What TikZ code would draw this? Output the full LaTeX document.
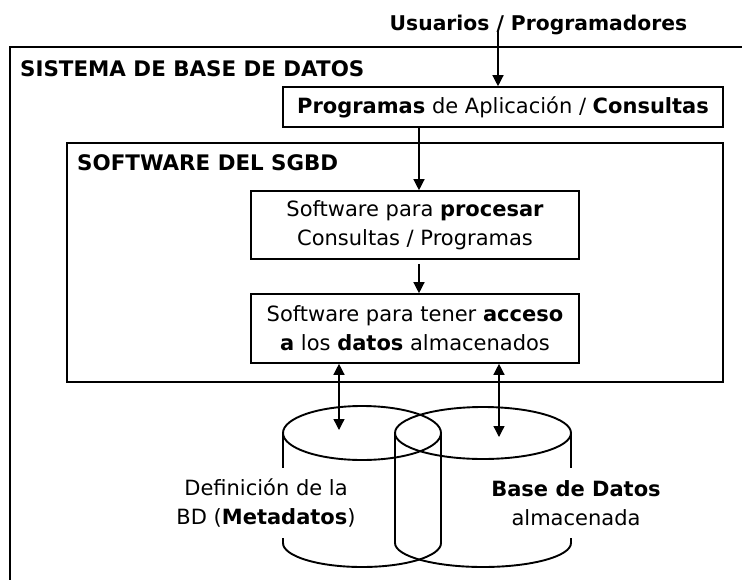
\documentclass[tikz,border=0pt]{standalone}
\usepackage{fontspec}
\setmainfont{DejaVu Sans}
\usetikzlibrary{positioning,arrows.meta}
\tikzset{
  caja/.style={draw,line width=1.6pt,inner sep=0pt,align=center,
               font=\fontsize{21}{29}\selectfont},
  titulo/.style={anchor=base west,inner sep=0pt,
               font=\fontsize{21.4}{26}\selectfont\bfseries},
  rotulo/.style={fill=white,inner xsep=3pt,minimum height=70pt,align=center,
               font=\fontsize{21}{29}\selectfont},
  cil/.style={line width=1.9pt},
  arr/.style={-{Triangle[length=11pt,width=11pt]},line width=1.3pt},
  darr/.style={{Triangle[length=11pt,width=11pt]}-{Triangle[length=11pt,width=11pt]},line width=1.3pt},
}

\begin{document}
\begin{tikzpicture}[x=1pt,y=-1pt]
    \useasboundingbox (0,0) rectangle (742,579);
    \clip (0,0) rectangle (742,579);
    % sistema
    \draw[line width=1.6pt] (10,47) rectangle (760,600);
    \node[titulo] (sbd) at (20,76) {SISTEMA DE BASE DE DATOS};
    \node[anchor=base,inner sep=0pt,font=\fontsize{20.3}{24}\selectfont\bfseries] (usr) at (538.5,30) {Usuarios / Programadores};
    \node[caja,minimum width=440pt,minimum height=40pt] (prog) at (503,107) {\textbf{Programas} de Aplicación / \textbf{Consultas}};
    % sgbd
    \draw[line width=1.6pt] (67,143) rectangle (723,382);
    \node[titulo] (sgbd) at (77,170) {SOFTWARE DEL SGBD};
    \node[caja,minimum width=328pt,minimum height=68pt] (proc) at (415,225) {Software para \textbf{procesar}\\Consultas / Programas};
    \node[caja,minimum width=328pt,minimum height=69pt] (acc) at (415,328.5) {Software para tener \textbf{acceso}\\\textbf{a} los \textbf{datos} almacenados};
    % cilindros
    \coordinate (meta) at (362,433);
    \coordinate (bdat) at (483,433);
    \draw[cil] (meta) ellipse (79 and 27);
    \draw[cil] ([xshift=-79pt]meta) -- ++(0,110) arc (180:0:79 and 24) -- ([xshift=79pt]meta);
    \draw[cil] (bdat) ellipse (88 and 26);
    \draw[cil] ([xshift=-88pt]bdat) -- ++(0,110) arc (180:0:88 and 24) -- ([xshift=88pt]bdat);
    \node[rotulo] (tmeta) at (266,503) {Definición de la\\BD (\textbf{Metadatos})};
    \node[rotulo] (tbd) at (576,503) {\textbf{Base de Datos}\\almacenada};
    % flechas
    \coordinate (pm) at (339,430);
    \coordinate (pb) at (499,437);
    \draw[arr] ([xshift=-40.5pt]usr.base) -- ([xshift=-40.5pt]usr.base |- prog.north);
    \draw[arr] ([xshift=4pt]prog.south -| proc.north) -- ([xshift=4pt]proc.north);
    \draw[arr] ([xshift=4pt,yshift=-4pt]proc.south) -- ([xshift=4pt]acc.north);
    \draw[darr] (acc.south -| pm) -- (pm);
    \draw[darr] (acc.south -| pb) -- (pb);
\end{tikzpicture}
\end{document}
